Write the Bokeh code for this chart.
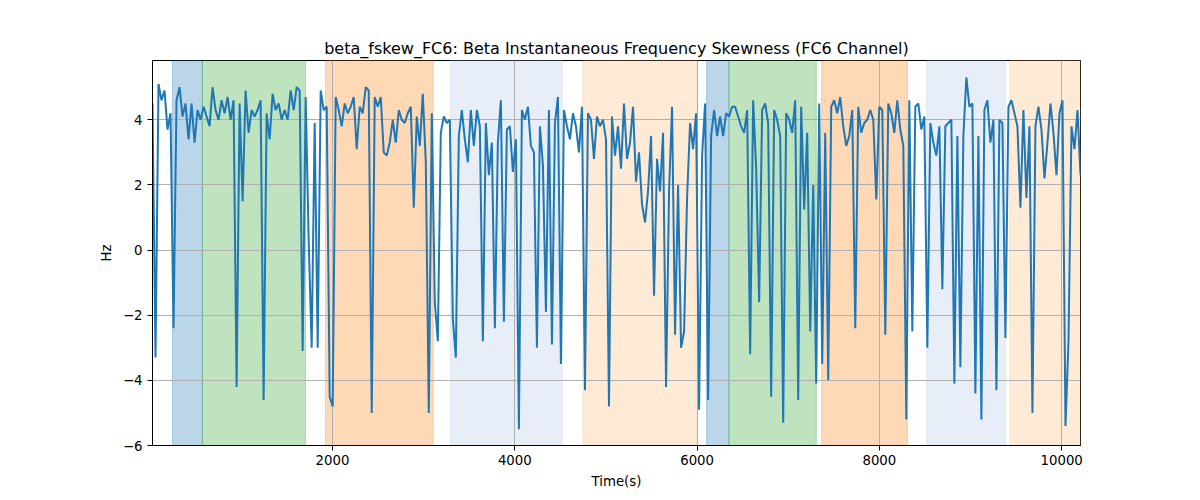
import numpy as np
from bokeh.plotting import figure
from bokeh.models import Range1d, FixedTicker
from bokeh.embed import file_html
from bokeh.resources import INLINE

# ---- data ----
time_start = 25.0
time_step = 32.95
fskew_values = [
    4.5, -3.3, 5.1, 4.6, 4.9, 3.7, 4.2, -2.4, 4.6, 5.0,
    4.1, 4.5, 3.4, 4.5, 3.3, 4.3, 4.0, 4.4, 4.1, 3.8,
    5.0, 4.3, 4.0, 4.6, 4.2, 4.7, 4.0, 4.6, -4.2, 4.5,
    1.5, 4.9, 3.6, 4.3, 4.1, 4.3, 4.6, -4.6, 4.2, 3.4,
    4.8, 4.3, 4.5, 4.0, 4.3, 4.0, 4.9, 4.3, 5.0, 4.9,
    -3.1, 4.7, 0.3, -3.0, 3.9, -3.0, 4.9, 4.3, 4.4, -4.5,
    -4.8, 4.7, 4.3, 3.8, 4.5, 4.2, 4.4, 4.7, 3.1, 4.4,
    4.2, 5.0, 4.9, -5.0, 4.7, 4.4, 4.7, 3.0,
    2.9, 3.3, 4.0, 3.3, 4.3, 4.0, 3.9, 4.2, 4.4, 1.3,
    4.1, 3.2, 4.8, 2.7, -5.0, 4.2, -1.6, -2.8, 3.6, 4.1,
    3.9, 4.0, -2.1, -3.3, 3.5, 4.3, 3.4, 2.7, 4.3, 3.2,
    4.3, 3.8, -2.8, 3.9, 2.3, 3.3, -2.4, 3.3,
    4.6, -2.2, 3.7, 3.8, 2.4, 3.4, -5.5, 4.3, 4.0, 4.4,
    3.2, 3.0, -3.0, 3.8, 2.6, -1.9, 4.3, -2.9, 3.9, 4.7,
    -3.5, 4.3, 3.8, 3.4, 4.2, 3.8, 3.0, 4.4, -4.3, 4.2,
    4.0, 2.8, 4.1, 3.8, 4.0, 3.4, -4.8, 4.1,
    2.9, 3.8, 2.5, 4.5, 2.8, 3.3, 4.4, 2.1, 3.0, 1.4,
    0.85, 1.8, 3.5, -1.4, 2.8, 1.8, 3.6, -4.2, 1.8, 4.4,
    -2.6, 2.0, -3.0, -2.5, 1.6, 3.9, 3.1, 4.2, -4.9, 2.9,
    4.5, -4.6, 3.5, 4.3, 3.5, 4.1, 3.5, 4.2, 4.1, 4.4,
    4.4, 4.1, 3.8, 3.6, 4.3, -3.2, 4.6, 2.5, -1.6, 4.3,
    4.5, 3.9, -4.5, 4.3, 4.0, 3.5, -5.3, 4.2, 4.0, 3.6,
    4.6, -4.6, 4.4, 1.25, 3.6, -2.5, 2.0, -4.1, 4.5, -3.5,
    3.6, -4.0, 4.4, 4.6, 4.2, 4.7, 3.8, 3.2,
    3.5, 4.3, -2.4, 4.4, 3.6, 3.9, 4.0, 4.3, 4.0, 1.55,
    4.4, 4.3, -2.6, 4.5, 4.2, 3.6, 4.6, 3.7, 3.2, -5.2,
    4.6, -2.5, 4.4, 4.5, 3.7, 4.1, -3.0, 3.9, 3.3, 2.9,
    3.8, -1.2, 3.8, 3.9, 4.0, -4.1, 3.5, -3.6,
    3.5, 5.3, 4.4, 4.5, -4.4, 3.5, -5.2, 4.3, 4.6, 3.3,
    4.0, -4.3, 4.0, 3.9, -2.7, 4.4, 4.6, 4.2, 3.8, 1.3,
    4.3, 1.6, 3.8, -5.0, 3.8, 4.4, 3.7, 2.2, 3.3, 4.5,
    3.6, 2.3, 4.2, 4.6, -5.4, -2.8, 3.8, 3.1, 4.3, 2.3,
]
time_values = time_start + time_step * np.arange(len(fskew_values))

span_starts = [244, 572, 1923, 3295, 4747, 6104, 6349, 7366, 8519, 9430]
span_ends = [572, 1704, 3105, 4521, 6002, 6349, 7308, 8307, 9386, float(time_values[-1])]
span_colors = ["#1f77b4", "#2ca02c", "#ff7f0e", "#aec7e8", "#ffbb78",
               "#1f77b4", "#2ca02c", "#ff7f0e", "#aec7e8", "#ffbb78"]

x_ticks = [2000, 4000, 6000, 8000, 10000]
y_ticks = [-6, -4, -2, 0, 2, 4]
y_min, y_max = -6.0, 5.82

title_text = "beta_fskew_FC6: Beta Instantaneous Frequency Skewness (FC6 Channel)"
x_label = "Time(s)"
y_label = "Hz"

FONT = "DejaVu Sans"

p = figure(
    frame_width=928, frame_height=385,
    min_border_left=152, min_border_right=120,
    min_border_top=60, min_border_bottom=55,
    output_backend="svg", toolbar_location=None,
    x_range=Range1d(float(time_values[0]), float(time_values[-1])),
    y_range=Range1d(y_min, y_max),
    title=title_text,
)
p.background_fill_color = "white"
p.border_fill_color = "white"
p.outline_line_color = "black"
p.outline_line_width = 1

p.title.align = "center"
p.title.text_font = FONT
p.title.text_font_size = "16px"
p.title.text_font_style = "normal"
p.title.text_color = "black"
p.title.standoff = 6

# spans under the grid
p.quad(left=span_starts, right=span_ends, bottom=y_min, top=y_max,
       fill_color=span_colors, fill_alpha=0.3,
       line_color=span_colors, line_alpha=0.3, line_width=1,
       level="underlay")

p.line(time_values, fskew_values, line_color="#1f77b4", line_width=2)

for ax in (p.xaxis[0], p.yaxis[0]):
    ax.axis_line_color = "black"
    ax.axis_line_width = 1
    ax.major_tick_line_color = "black"
    ax.major_tick_line_width = 1
    ax.major_tick_out = 5
    ax.major_tick_in = 0
    ax.minor_tick_line_color = None
    ax.major_label_text_font = FONT
    ax.major_label_text_font_size = "13.3px"
    ax.major_label_text_color = "black"
    ax.axis_label_text_font = FONT
    ax.axis_label_text_font_size = "13.3px"
    ax.axis_label_text_font_style = "normal"
    ax.axis_label_text_color = "black"

p.xaxis.ticker = FixedTicker(ticks=x_ticks)
p.yaxis.ticker = FixedTicker(ticks=y_ticks)
p.yaxis.major_label_overrides = {t: ("\u2212" + str(abs(t)) if t < 0 else str(t)) for t in y_ticks}
p.xaxis.axis_label = x_label
p.yaxis.axis_label = y_label
p.xaxis.major_label_standoff = 4
p.yaxis.major_label_standoff = 5
p.xaxis.axis_label_standoff = 6
p.yaxis.axis_label_standoff = 6

p.xgrid.ticker = FixedTicker(ticks=x_ticks)
p.ygrid.ticker = FixedTicker(ticks=y_ticks)
for g in (p.xgrid, p.ygrid):
    g.grid_line_color = "#b0b0b0"
    g.grid_line_width = 1

open("out.html", "w").write(file_html(p, INLINE))
